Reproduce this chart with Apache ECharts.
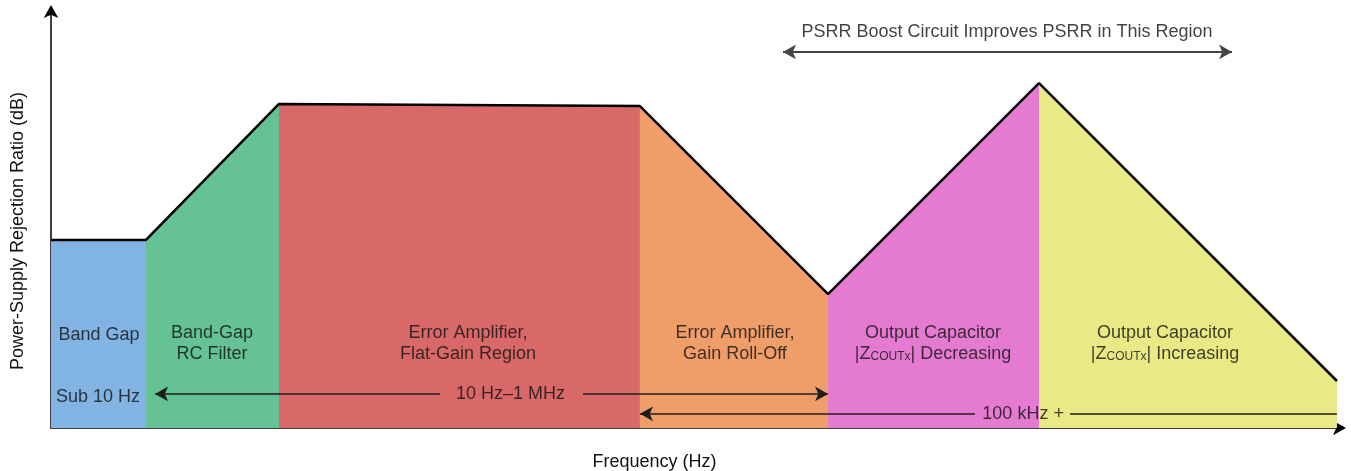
<!DOCTYPE html>
<html>
<head>
<meta charset="utf-8">
<script src="https://cdn.jsdelivr.net/npm/echarts@6/dist/echarts.min.js"></script>
<style>
    html, body { margin: 0; padding: 0; background: #fff; }
    #chart { width: 1351px; height: 471px; }
</style>
</head>
<body>
<div id="chart"></div>
<script>
// frequency axis is in arbitrary units (0-100), PSRR too
var breakX = [0, 7.36, 17.66, 45.62, 60.19, 76.53, 99.61];
var psrrY = [45.2, 45.2, 77.9, 77.4, 32.2, 82.9, 11.3];
var regionNames = ['Band Gap', 'Band-Gap RC Filter', 'Error Amplifier, Flat-Gain Region',
                   'Error Amplifier, Gain Roll-Off', 'Output Capacitor Decreasing', 'Output Capacitor Increasing'];
var regionColors = ['#81b4e2', '#65c295', '#d96868', '#ef9e69', '#e47bd0', '#e9e985'];

// region labels: [x, y, text]
var regionLabels = [
    [3.72, 22.4, 'Band Gap'],
    [12.47, 20.4, 'Band-Gap\nRC Filter'],
    [32.3, 20.4, 'Error Amplifier,\nFlat-Gain Region'],
    [52.98, 20.4, 'Error Amplifier,\nGain Roll-Off'],
    [68.32, 20.4, 'Output Capacitor\n|Z{sub|COUTx}| Decreasing'],
    [86.29, 20.4, 'Output Capacitor\n|Z{sub|COUTx}| Increasing']
];

// range arrows
var rangeLabels = [
    [3.64, 7.5, 'Sub 10 Hz'],
    [35.6, 8.2, '10 Hz\u20131 MHz'],
    [75.3, 3.4, '100 kHz +'],
    [74.05, 95.2, 'PSRR Boost Circuit Improves PSRR in This Region']
];
var midRange = { from: 8.06, gapFrom: 30.13, gapTo: 41.21, to: 60.19, y: 8.2 };
var highRange = { from: 45.62, gapFrom: 71.57, gapTo: 78.93, to: 99.61, y: 3.4 };
var boostRange = { from: 56.7, to: 91.48, y: 90.4 };

var chart = echarts.init(document.getElementById('chart'));

var outline = breakX.map(function (x, i) { return [x, psrrY[i]]; });

var series = [];
regionNames.forEach(function (name, i) {
    series.push({
        name: name,
        type: 'line',
        data: [[breakX[i], psrrY[i]], [breakX[i + 1], psrrY[i + 1]]],
        symbol: 'none',
        lineStyle: { width: 0 },
        areaStyle: { color: regionColors[i], opacity: 1 },
        silent: true,
        z: 1
    });
});

function seg(x1, x2, y, s1, s2) {
    return [{ coord: [x1, y], symbol: s1 }, { coord: [x2, y], symbol: s2 }];
}

series.push({
    name: 'PSRR',
    type: 'line',
    data: outline,
    symbol: 'none',
    lineStyle: { color: '#000', width: 2.5 },
    silent: true,
    z: 3,
    markLine: {
        silent: true,
        animation: false,
        symbolSize: [11, 13],
        label: { show: false },
        lineStyle: { color: '#1e1e1e', width: 1.5, type: 'solid' },
        data: [
            seg(midRange.from, midRange.gapFrom, midRange.y, 'arrow', 'none'),
            seg(midRange.gapTo, midRange.to, midRange.y, 'none', 'arrow'),
            seg(highRange.from, highRange.gapFrom, highRange.y, 'arrow', 'none'),
            seg(highRange.gapTo, highRange.to, highRange.y, 'none', 'none'),
            [{ coord: [boostRange.from, boostRange.y], symbol: 'arrow', lineStyle: { color: '#444', width: 2 } },
             { coord: [boostRange.to, boostRange.y], symbol: 'arrow' }]
        ]
    }
});

var textStyle = {
    show: true,
    position: 'inside',
    color: '#111',
    fontFamily: 'Liberation Sans',
    fontSize: 18,
    lineHeight: 21,
    align: 'center',
    verticalAlign: 'middle',
    formatter: function (p) { return p.data[2]; },
    rich: {
        sub: { fontFamily: 'Liberation Sans', fontSize: 12, color: '#111', padding: [6, 0, 0, 0] }
    }
};

series.push({
    name: 'labels',
    type: 'scatter',
    data: regionLabels.concat(rangeLabels),
    symbolSize: 0,
    itemStyle: { color: 'rgba(0,0,0,0)' },
    label: textStyle,
    silent: true,
    z: 4
});

var option = {
    animation: false,
    grid: { left: 51, right: 9, top: 12, bottom: 43, outerBoundsMode: 'none' },
    xAxis: {
        type: 'value',
        min: 0,
        max: 100,
        name: 'Frequency (Hz)',
        nameLocation: 'middle',
        nameGap: 25,
        nameTextStyle: { fontFamily: 'Liberation Sans', fontSize: 18, color: '#111', padding: [0, 84, 0, 0] },
        axisLine: { lineStyle: { color: '#000', width: 1.5 }, symbol: ['none', 'arrow'], symbolSize: [11, 13], symbolOffset: [0, 4] },
        axisTick: { show: false },
        axisLabel: { show: false },
        splitLine: { show: false }
    },
    yAxis: {
        type: 'value',
        min: 0,
        max: 100,
        name: 'Power-Supply Rejection Ratio (dB)',
        nameLocation: 'middle',
        nameGap: 24,
        nameTextStyle: { fontFamily: 'Liberation Sans', fontSize: 18, color: '#111', padding: [0, 22, 0, 0] },
        axisLine: { lineStyle: { color: '#000', width: 1.5 }, symbol: ['none', 'arrow'], symbolSize: [11, 13], symbolOffset: [0, 7] },
        axisTick: { show: false },
        axisLabel: { show: false },
        splitLine: { show: false }
    },
    series: series
};

chart.setOption(option);
</script>
</body>
</html>
